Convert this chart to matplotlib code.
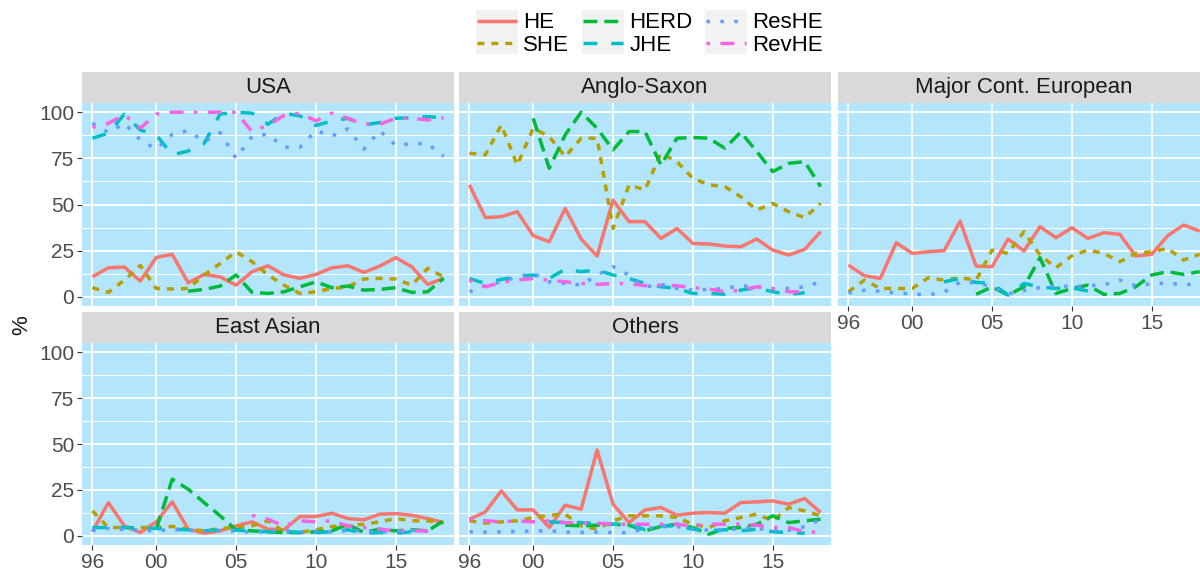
import matplotlib
matplotlib.use("Agg")
import matplotlib.pyplot as plt
from matplotlib.lines import Line2D
from matplotlib.patches import Rectangle
import numpy as np

nan = np.nan

years = np.arange(1996, 2019)
series = ["HE", "SHE", "HERD", "JHE", "ResHE", "RevHE"]
colors = ["#F8766D", "#B79F00", "#00BA38", "#00BFC4", "#619CFF", "#F564E3"]
dashes = [None, (2, 2), (4, 2), (4, 4), (1, 3), (1, 3, 4, 3)]
regions = ["USA", "Anglo-Saxon", "Major Cont. European", "East Asian", "Others"]
x_ticks = [1996, 2000, 2005, 2010, 2015]
x_labels = ["96", "00", "05", "10", "15"]
y_ticks = [0, 25, 50, 75, 100]

# USA
usa_he = [10.8, 15.7, 16.1, 8.5, 21.3, 23.0, 7.6, 12.1, 10.8, 6.3, 13.6, 16.8, 11.8, 10.0, 12.1, 15.7, 16.8, 13.2, 16.6, 21.2, 16.3, 6.7, 10.0]
usa_she = [4.9, 2.4, 9.0, 17.0, 4.5, 4.2, 4.5, 11.8, 18.0, 24.4, 19.0, 11.8, 6.3, 1.8, 2.7, 4.5, 5.4, 9.6, 10.0, 9.6, 6.3, 15.4, 10.8]
usa_herd = [nan] * 6 + [3.0, 4.0, 5.8, 11.8, 2.4, 1.8, 2.7, 5.4, 8.1, 4.9, 5.8, 3.6, 4.0, 4.9, 2.4, 2.7, 10.0]
usa_jhe = [85.9, 88.6, 98.9, 90.4, 87.7, 76.9, 79.0, 83.0, 99.0, 100.0, 99.5, 93.5, 99.5, 98.0, 92.8, 95.3, 96.7, 93.1, 94.4, 96.7, 97.0, 97.6, 97.0]
usa_reshe = [94, 89, 94, 85, 80, 88, 90, 84, 89, 75, 87, 88, 81, 81, 90, 87, 91, 80, 90, 82, 83, 83, 76]
usa_revhe = [91.8, 94.0, 98.6, 91.3, 99.0, 100, 100, 100, 100, 100, 89.5, 93.0, 98.2, 99.5, 95.3, 99.5, 96.7, 93.5, 93.5, 96.7, 96.7, 95.8, 97.0]

# Anglo-Saxon
as_he = [60.6, 42.9, 43.4, 46.1, 33.1, 29.8, 47.9, 31.3, 22.1, 52.4, 40.7, 40.7, 31.6, 37.0, 28.9, 28.6, 27.5, 27.1, 31.3, 25.3, 22.6, 25.7, 35.3]
as_she = [77.8, 76.9, 93.1, 71.4, 91.3, 86.8, 76.0, 85.9, 85.9, 37.0, 60.6, 57.9, 77.8, 73.2, 64.2, 60.6, 59.7, 54.2, 47.0, 50.6, 46.1, 42.9, 50.6]
as_herd = [nan] * 4 + [96.7, 69.6, 87.7, 100.0, 91.3, 79.6, 89.5, 89.5, 71.4, 85.9, 86.3, 85.9, 80.5, 89.2, 78.7, 67.8, 72.3, 73.2, 59.7]
as_jhe = [9.9, 7.2, 9.4, 10.8, 11.8, 9.9, 15.0, 13.6, 14.5, 11.8, 9.9, 7.2, 5.4, 4.5, 1.8, 1.8, 1.4, 3.6, 4.9, 2.7, 1.3, 2.2, nan]
as_reshe = [2.7, 6.0, 8.1, 10.8, 12.7, 8.1, 7.2, 6.3, 11.8, 16.3, 11.8, 5.4, 6.7, 4.5, 3.6, 4.0, 4.5, 6.0, 5.4, 4.2, 4.5, 5.4, 8.1]
as_revhe = [9.0, 5.4, 7.8, 9.0, 9.9, 9.0, 8.1, 7.2, 6.7, 7.2, 7.2, 6.0, 6.3, 6.0, 4.9, 4.2, 2.7, 3.6, 5.4, 4.5, 2.7, 2.7, nan]

# Major Cont. European
mce_he = [17.2, 11.4, 9.9, 29.3, 23.5, 24.4, 25.0, 41.0, 16.6, 16.3, 31.3, 24.8, 38.0, 32.0, 37.4, 31.6, 34.7, 33.8, 22.1, 23.0, 33.1, 38.9, 35.6]
mce_she = [2.7, 9.0, 4.5, 4.5, 4.5, 10.3, 9.0, 10.3, 9.0, 25.3, 23.5, 35.3, 22.6, 15.7, 22.2, 25.3, 23.5, 19.0, 23.5, 24.4, 26.2, 19.9, 23.0]
mce_herd = [nan] * 8 + [1.3, 5.4, 0.9, 5.4, 21.2, 1.8, 4.5, 6.3, 1.3, 1.8, 5.4, 11.8, 13.6, 12.1, 13.6]
mce_jhe = [nan] * 6 + [8.1, 9.9, 7.8, 7.2, 0.9, 7.2, 5.4, 4.5, 4.9, 3.1] + [nan] * 7
mce_reshe = [2.0, 3.5, 3.0, 2.0, 1.5, 1.0, 2.5, 8.0, 7.5, 5.5, 1.5, 3.5, 5.0, 6.0, 5.5, 6.0, 6.5, 9.0, 6.0, 7.0, 7.5, 6.5, 7.0]
mce_revhe = [nan] * 23

# East Asian
ea_he = [2.2, 18.1, 5.4, 1.8, 7.6, 18.5, 3.6, 1.4, 2.7, 5.4, 7.6, 3.6, 3.3, 10.5, 10.5, 12.3, 9.4, 8.7, 11.8, 12.1, 11.2, 9.4, 7.2]
ea_she = [13.6, 4.5, 4.5, 4.5, 4.5, 5.1, 3.6, 2.7, 4.0, 4.5, 5.4, 8.2, 2.2, 1.8, 3.3, 5.1, 5.4, 6.3, 7.6, 9.4, 8.2, 8.2, 6.9]
ea_herd = [nan] * 4 + [3.6, 30.8, 25.4, 18.1, 10.9, 3.3, 2.7, 2.2, 1.8, 1.8, 2.2, 2.7, 6.3, 1.8, 3.6, 2.7, 3.3, 2.7, 8.2]
ea_jhe = [4.5, 4.5, 4.5, 4.2, 4.0, 3.6, 3.3, 2.7, 3.3, 3.1, 2.7, 2.2, 2.2, 1.8, 1.8, 2.2, 3.3, 1.4, 1.8, 1.4, 2.2, 2.7, nan]
ea_reshe = [3.0, 4.0, 3.5, 3.0, 2.7, 3.5, 3.0, 2.5, 3.0, 2.5, 2.0, 2.5, 3.0, 2.0, 2.5, 2.0, 3.0, 2.5, 2.0, 2.5, 3.0, 2.5, nan]
ea_revhe = [nan] * 10 + [11.2, 9.0, 5.4, 8.2, 7.6, 8.2, 5.4, 4.5, 3.6, 2.7, 2.7, 2.7, nan]

# Others
ot_he = [9.0, 13.0, 24.5, 14.1, 14.1, 4.5, 16.7, 14.5, 46.7, 17.2, 7.2, 14.1, 15.4, 11.2, 12.3, 12.7, 12.3, 18.1, 18.5, 19.0, 17.2, 20.3, 12.7]
ot_she = [8.2, 6.9, 7.6, 8.2, 10.0, 11.2, 11.8, 5.4, 3.6, 8.2, 10.9, 10.9, 10.9, 10.0, 6.3, 4.5, 8.2, 10.0, 11.8, 8.2, 15.4, 13.6, 10.9]
ot_herd = [nan] * 6 + [5.8, 5.4, 5.8, 6.3, 5.8, 2.7, 5.1, 6.3, 4.5, 0.9, 4.0, 4.5, 6.3, 10.9, 7.2, 8.2, 9.0]
ot_jhe = [nan] * 5 + [7.6, 7.2, 7.2, 6.7, 6.3, 6.3, 3.3, 5.4, 5.4, 3.6, 2.7, 3.3, 2.7, 3.6, 2.2, 1.8, 1.4, nan]
ot_reshe = [2.2, 2.0, 2.2, 2.4, 2.6, 2.8, 2.0, 1.8, 2.0, 1.8, 1.6, 4.0, 5.0, 5.0, 4.0, 3.0, 3.0, 4.0, 4.0, 3.0, 3.0, 5.0, 9.0]
ot_revhe = [9.0, 8.2, 7.6, 8.2, 7.6, 8.2, 7.2, 6.9, 6.9, 6.3, 6.3, 6.3, 6.3, 6.3, 5.4, 6.3, 6.3, 6.3, 5.8, 4.5, 4.5, 2.2, 1.8]

panel_data = {
    "USA": [usa_he, usa_she, usa_herd, usa_jhe, usa_reshe, usa_revhe],
    "Anglo-Saxon": [as_he, as_she, as_herd, as_jhe, as_reshe, as_revhe],
    "Major Cont. European": [mce_he, mce_she, mce_herd, mce_jhe, mce_reshe, mce_revhe],
    "East Asian": [ea_he, ea_she, ea_herd, ea_jhe, ea_reshe, ea_revhe],
    "Others": [ot_he, ot_she, ot_herd, ot_jhe, ot_reshe, ot_revhe],
}

plt.rcParams["font.family"] = ["Liberation Sans", "DejaVu Sans"]

W, H = 1200, 570
fig = plt.figure(figsize=(W / 100, H / 100), dpi=100)

panel_bg = "#B3E5FC"
strip_bg = "#D9D9D9"
tick_col = "#4D4D4D"
line_w = 2.5

col_left = [82, 459, 838]
panel_w = 372
row_top = [103, 343]
panel_h = [203, 202]
strip_h = 31


def fx(px):
    return px / W


def fy(py):
    return 1 - py / H


for i, region in enumerate(regions):
    r, c = divmod(i, 3)
    left = col_left[c]
    top = row_top[r]
    ax = fig.add_axes([fx(left), fy(top + panel_h[r]), panel_w / W, panel_h[r] / H])
    ax.set_facecolor(panel_bg)
    for sp in ax.spines.values():
        sp.set_visible(False)
    ax.set_xlim(1995.35, 2018.65)
    ax.set_ylim(-5, 105)
    ax.set_xticks(x_ticks)
    ax.set_yticks(y_ticks)
    ax.set_yticks([12.5, 37.5, 62.5, 87.5], minor=True)
    ax.grid(True, which="major", color="white", lw=1.3)
    ax.grid(True, which="minor", axis="y", color="white", lw=0.7)
    ax.set_axisbelow(True)
    ax.tick_params(which="minor", length=0)
    ax.tick_params(which="major", length=3.5, width=0.8, color="#333333",
                   labelcolor=tick_col, labelsize=15, pad=2)

    if c == 0:
        ax.set_yticklabels([str(v) for v in y_ticks])
    else:
        ax.tick_params(axis="y", length=0, labelleft=False)
    if r == 1 or c == 2:
        ax.set_xticklabels(x_labels)
    else:
        ax.tick_params(axis="x", length=0, labelbottom=False)

    for vals, col, d in zip(panel_data[region], colors, dashes):
        ln, = ax.plot(years, vals, color=col, lw=line_w,
                      solid_capstyle="butt", dash_capstyle="butt")
        if d is not None:
            ln.set_dashes(d)

    sax = fig.add_axes([fx(left), fy(top), panel_w / W, strip_h / H])
    sax.set_facecolor(strip_bg)
    sax.set_xticks([])
    sax.set_yticks([])
    for sp in sax.spines.values():
        sp.set_visible(False)
    sax.text(0.5, 0.5, region, ha="center", va="center", fontsize=16,
             color="#1A1A1A", transform=sax.transAxes)

fig.text(fx(22), fy(325), "%", rotation=90, ha="center", va="center",
         fontsize=16, color="#1A1A1A")

handles = []
for name, col, d in zip(series, colors, dashes):
    h = Line2D([0], [0], color=col, lw=line_w, solid_capstyle="butt", dash_capstyle="butt")
    if d is not None:
        h.set_dashes(d)
    handles.append(h)

leg = fig.legend(handles, series, ncol=3, loc="center",
                 bbox_to_anchor=(fx(650), fy(34)), frameon=False,
                 fontsize=16, handlelength=1.8, handletextpad=0.3,
                 columnspacing=0.6, labelspacing=0.05, borderpad=0)

# grey key backgrounds as in ggplot legends
fig.canvas.draw()
for h in leg.legend_handles:
    bb = h.get_window_extent(fig.canvas.get_renderer())
    cy = (bb.y0 + bb.y1) / 2
    rect = Rectangle((bb.x0 - 1, cy - 11), bb.width + 2, 22, transform=None,
                     facecolor="#F2F2F2", edgecolor="none", zorder=0)
    fig.patches.append(rect)

fig.savefig("out.png", dpi=100)
